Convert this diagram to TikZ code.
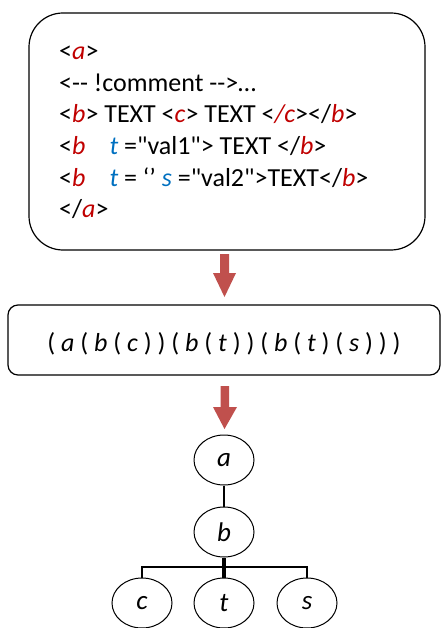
\documentclass[tikz,border=0pt]{standalone}
\usepackage{fontspec}
\setmainfont{Carlito}[Ligatures=TeXOff]
\usetikzlibrary{shapes.geometric}
\definecolor{tagred}{RGB}{192,0,0}
\definecolor{attblue}{RGB}{0,112,192}
\definecolor{arrowred}{RGB}{192,80,77}
\newcommand{\tg}[1]{\textcolor{tagred}{\textit{#1}}}
\newcommand{\at}[1]{\textcolor{attblue}{\textit{#1}}}
\tikzset{
  codeline/.style={anchor=base west, inner sep=0pt, font=\fontsize{26}{26}\selectfont},
  panel/.style={draw=black, line width=1.2pt},
  tnode/.style={ellipse, draw=black, line width=1pt, minimum width=60pt, minimum height=50pt, inner sep=0pt, font=\fontsize{27}{27}\selectfont\itshape},
  tedge/.style={line width=1.6pt},
  bigarrow/.style={fill=arrowred, draw=none}
}
\begin{document}
\begin{tikzpicture}[x=1pt,y=-1pt]
\useasboundingbox (0,0) rectangle (441,628);
% top panel
\draw[panel, rounded corners=34pt] (29,13) rectangle (425,250);
\node[codeline] (l1) at (59,60) {<\tg{a}>};
\node[codeline] (l2) at (59,91.5) {<-- !comment -->…};
\node[codeline] (l3) at (59,123) {<\tg{b}> TEXT <\tg{c}> TEXT <\tg{/c}></\tg{b}>};
\node[codeline] (l4) at (59,154.5) {<\tg{b}\hspace{24pt}\at{t} ="val1"> TEXT </\tg{b}>};
\node[codeline] (l5) at (59,186) {<\tg{b}\hspace{24pt}\at{t} = ‘’ \at{s} ="val2">TEXT</\tg{b}>};
\node[codeline] (l6) at (59,217.5) {</\tg{a}>};
% arrow 1
\fill[bigarrow] (220,254) -- (229,254) -- (229,273) -- (236,273) -- (224.5,297) -- (213,273) -- (220,273) -- cycle;
% middle panel
\draw[panel, rounded corners=10pt] (8,305) rectangle (440,375);
\node[inner sep=0pt, anchor=base, font=\fontsize{26}{26}\selectfont] (expr) at (224,351)
  {( \textit{a} ( \textit{b} ( \textit{c} ) ) ( \textit{b} ( \textit{t} ) ) ( \textit{b} ( \textit{t} ) ( \textit{s} ) ) )};
% arrow 2
\fill[bigarrow] (220.5,386) -- (229,386) -- (229,407) -- (237,407) -- (224.5,429) -- (213,407) -- (220.5,407) -- cycle;
% tree
\node[tnode] (a) at (224,460) {a};
\node[tnode] (b) at (224,532) {b};
\node[tnode] (c) at (142,603) {c};
\node[tnode] (t) at (224,603) {t};
\node[tnode] (s) at (307,603) {s};
\draw[tedge] (a) -- (b);
\coordinate (bar) at (224,567);
\draw[tedge] (b.south) -- (bar) -| (c.north);
\draw[tedge] (bar) -| (s.north);
\draw[line width=4pt] (b.south) -- (t.north);
\end{tikzpicture}
\end{document}
